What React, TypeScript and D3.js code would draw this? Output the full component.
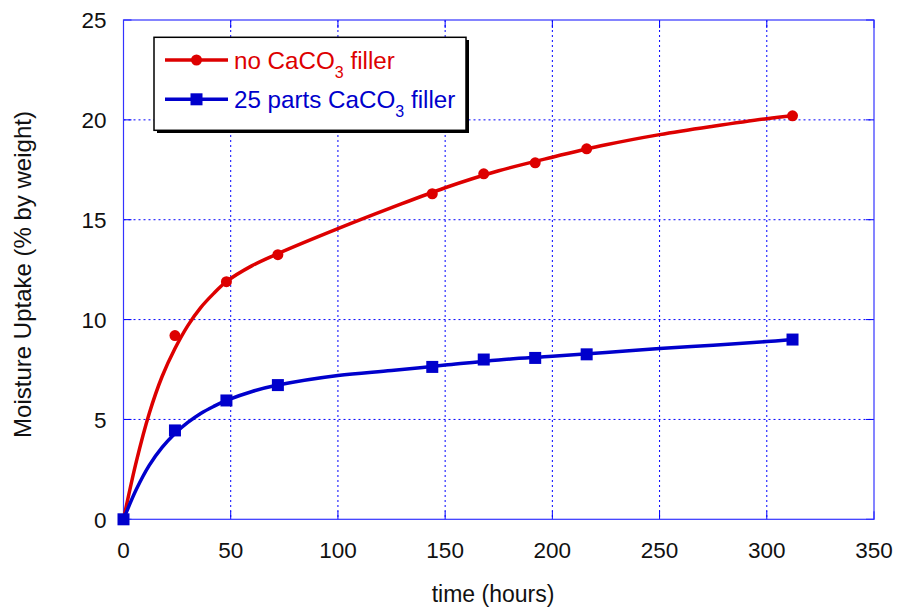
import React from "react";
import * as d3 from "d3";

const hours = [0, 24, 48, 72, 144, 168, 192, 216, 312];
const noFiller = [0, 9.2, 11.9, 13.25, 16.3, 17.3, 17.85, 18.55, 20.2];
const withFiller = [0, 4.45, 5.95, 6.72, 7.63, 8.0, 8.08, 8.26, 9.0];

const fitHours = [0, 6, 12, 18, 24, 30, 36, 42, 48, 60, 72, 100, 125, 150, 175, 200, 225, 250, 275, 300, 312];
const noFillerFit = [0, 2.9, 5.3, 7.15, 8.55, 9.7, 10.6, 11.3, 11.9, 12.7, 13.3, 14.55, 15.6, 16.6, 17.45, 18.13, 18.75, 19.26, 19.68, 20.06, 20.2];
const withFillerFit = [0, 1.5, 2.7, 3.6, 4.3, 4.85, 5.3, 5.65, 5.95, 6.4, 6.72, 7.2, 7.45, 7.72, 7.98, 8.16, 8.35, 8.55, 8.72, 8.9, 9.0];

const xTicks = [0, 50, 100, 150, 200, 250, 300, 350];
const yTicks = [0, 5, 10, 15, 20, 25];

const W = 898, H = 609;
const L = 123.5, R = 874, T = 20, B = 519.3;
const RED = "#dd0000";
const BLUE = "#0000cc";
const FONT = "Liberation Sans, Arial, Helvetica, sans-serif";

export default function App() {
  const x = d3.scaleLinear().domain([0, 350]).range([L, R]);
  const y = d3.scaleLinear().domain([0, 25]).range([B, T]);
  const line = d3
    .line<[number, number]>()
    .x((d) => x(d[0]))
    .y((d) => y(d[1]))
    .curve(d3.curveCatmullRom.alpha(0.5));
  const redPath = line(fitHours.map((h, i) => [h, noFillerFit[i]] as [number, number])) || "";
  const bluePath = line(fitHours.map((h, i) => [h, withFillerFit[i]] as [number, number])) || "";
  const tick = 8;

  return (
    <svg width={W} height={H} style={{ position: "absolute", left: 0, top: 0, background: "#fff" }} fontFamily={FONT}>
      <rect x={0} y={0} width={W} height={H} fill="#fff" />
      {/* grid */}
      {xTicks.slice(1, -1).map((t) => (
        <line key={"gx" + t} x1={x(t)} x2={x(t)} y1={T} y2={B} stroke="#0000ff" strokeWidth={1} strokeDasharray="2,3" />
      ))}
      {yTicks.slice(1, -1).map((t) => (
        <line key={"gy" + t} x1={L} x2={R} y1={y(t)} y2={y(t)} stroke="#0000ff" strokeWidth={1} strokeDasharray="2,3" />
      ))}
      {/* ticks */}
      {xTicks.map((t) => (
        <g key={"tx" + t}>
          <line x1={x(t)} x2={x(t)} y1={B} y2={B - tick} stroke="#0000ff" strokeWidth={1} />
          <line x1={x(t)} x2={x(t)} y1={T} y2={T + tick} stroke="#0000ff" strokeWidth={1} />
          <text x={x(t)} y={558} fontSize={22.5} textAnchor="middle" fill="#111">{t}</text>
        </g>
      ))}
      {yTicks.map((t) => (
        <g key={"ty" + t}>
          <line x1={L} x2={L + tick} y1={y(t)} y2={y(t)} stroke="#0000ff" strokeWidth={1} />
          <line x1={R} x2={R - tick} y1={y(t)} y2={y(t)} stroke="#0000ff" strokeWidth={1} />
          <text x={106.5} y={y(t) + 8.3} fontSize={22.5} textAnchor="end" fill="#111">{t}</text>
        </g>
      ))}
      {/* frame */}
      <rect x={L} y={T} width={R - L} height={B - T} fill="none" stroke="#3333ff" strokeWidth={1.2} />
      {/* axis titles */}
      <text x={493} y={602} fontSize={23} textAnchor="middle" fill="#111">time (hours)</text>
      <text transform={`translate(31,274.5) rotate(-90)`} fontSize={24} textAnchor="middle" fill="#111">
        Moisture Uptake (% by weight)
      </text>
      {/* series */}
      <path d={redPath} fill="none" stroke={RED} strokeWidth={3.5} strokeLinejoin="round" />
      <path d={bluePath} fill="none" stroke={BLUE} strokeWidth={3.5} strokeLinejoin="round" />
      {hours.map((h, i) => (
        <circle key={"r" + h} cx={x(h)} cy={y(noFiller[i])} r={5.5} fill={RED} />
      ))}
      {hours.map((h, i) => (
        <rect key={"b" + h} x={x(h) - 6} y={y(withFiller[i]) - 6} width={12} height={12} fill={BLUE} />
      ))}
      {/* legend */}
      <rect x={157} y={40} width={312} height={93} fill="#000" />
      <rect x={154} y={37.3} width={312} height={93} fill="#fff" stroke="#000" strokeWidth={1.5} />
      <line x1={165} x2={228} y1={60} y2={60} stroke={RED} strokeWidth={3.5} />
      <circle cx={196.5} cy={60} r={5.5} fill={RED} />
      <text x={234} y={68.5} fontSize={24.2} fill={RED}>
        no CaCO<tspan fontSize={16} dy={9}>3</tspan><tspan dy={-9}> filler</tspan>
      </text>
      <line x1={165} x2={228} y1={99.3} y2={99.3} stroke={BLUE} strokeWidth={3.5} />
      <rect x={190.5} y={93.3} width={12} height={12} fill={BLUE} />
      <text x={234} y={107.8} fontSize={24.2} fill={BLUE}>
        25 parts CaCO<tspan fontSize={16} dy={9}>3</tspan><tspan dy={-9}> filler</tspan>
      </text>
    </svg>
  );
}
